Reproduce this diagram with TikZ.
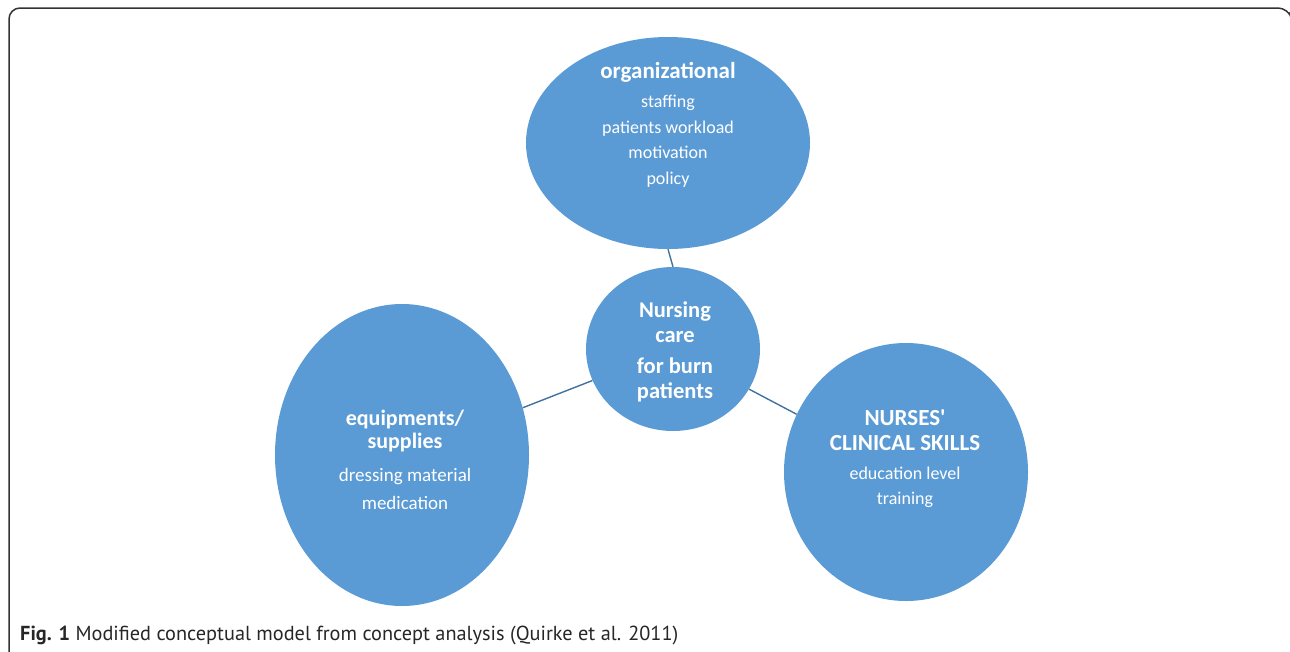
\documentclass[tikz,border=0pt]{standalone}
\usepackage{fontspec}
\setmainfont{Carlito}
\newfontfamily\capfont{PT Sans}
\usetikzlibrary{shapes.geometric}
\definecolor{bubble}{HTML}{5B9BD5}
\definecolor{linkblue}{HTML}{41719C}
\definecolor{framegray}{HTML}{333333}
\begin{document}
\begin{tikzpicture}[x=1pt,y=-1pt,
  bubblenode/.style={ellipse,fill=bubble,draw=none,inner sep=0pt},
  headtext/.style={text=white,font=\bfseries\fontsize{23}{24}\selectfont,align=center},
  itemtext/.style={text=white,font=\fontsize{18}{25.5}\selectfont,align=center},
  link/.style={draw=linkblue,line width=1.4pt}]
\useasboundingbox (0,0) rectangle (1290,651);

% open frame around the figure
\draw[framegray,line width=1.5pt,rounded corners=11] (9,652) -- (9,8) -- (1289,8) -- (1290,12);

% four bubbles
\node[bubblenode,minimum width=284pt,minimum height=212pt] (org) at (668,143) {};
\node[bubblenode,minimum width=174pt,minimum height=164pt] (core) at (673,349) {};
\node[bubblenode,minimum width=254pt,minimum height=302pt] (equip) at (402,455) {};
\node[bubblenode,minimum width=244pt,minimum height=258pt] (skills) at (906,472) {};

% connectors between the centre and the outer bubbles
\draw[link] (org.south) -- (core.north);
\draw[link] (equip) -- (core);
\draw[link] (core) -- (skills);

% bubble texts
\node[headtext] (orgtitle) at (668,72) {organizational};
\node[itemtext,anchor=north] (orgitems) at (668,92) {staffing\\patients workload\\motivation\\policy};

\node[headtext,font=\bfseries\fontsize{22.5}{25}\selectfont] (coretop) at (675,322) {Nursing\\care};
\node[headtext,font=\bfseries\fontsize{22.5}{25}\selectfont] (corebot) at (675,380) {for burn\\patients};

\node[headtext,font=\bfseries\fontsize{22}{23}\selectfont] (equiptitle) at (405,431) {equipments/\\supplies};
\node[itemtext,font=\fontsize{19}{28}\selectfont] (equipitems) at (405,489) {dressing material\\medication};

\node[headtext,font=\bfseries\fontsize{23}{25}\selectfont] (skilltitle) at (905,430) {NURSES\textquotesingle\\CLINICAL SKILLS};
\node[itemtext,font=\fontsize{18}{25}\selectfont] (skillitems) at (905,487) {education level\\training};

% caption
\node[anchor=west,inner sep=0pt,font=\capfont\fontsize{20.3}{22}\selectfont,text=black!85] (caption) at (20,635)
  {\textbf{Fig. 1} Modified conceptual model from concept analysis (Quirke et al. 2011)};
\end{tikzpicture}
\end{document}
